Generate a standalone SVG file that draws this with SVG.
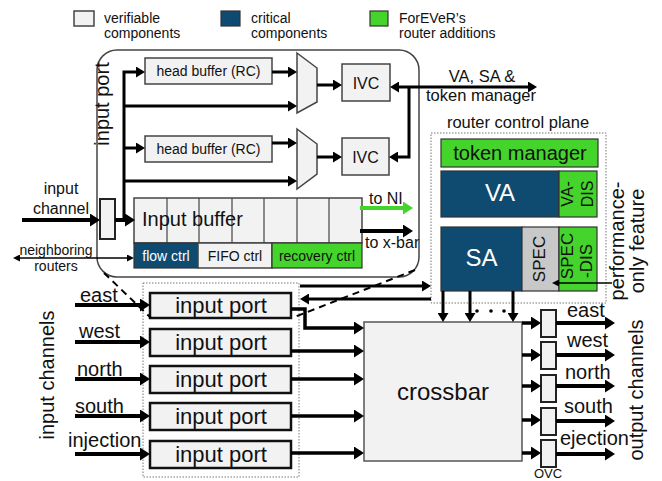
<svg xmlns="http://www.w3.org/2000/svg" width="662" height="481" viewBox="0 0 662 481">
<defs>
<style>
text{font-family:"Liberation Sans",Arial,sans-serif;fill:#111}
.box{fill:#f2f2f2;stroke:#444;stroke-width:1.5}
.crit{fill:#0f4a70;stroke:#333;stroke-width:1.2}
.add{fill:#44d42c;stroke:#333;stroke-width:1.2}
.spec{fill:#c8c8c8;stroke:#333;stroke-width:1.2}
.port{fill:#f2f2f2;stroke:#111;stroke-width:2.5}
.reg{fill:#f2f2f2;stroke:#222;stroke-width:2}
.dot{fill:none;stroke:#777;stroke-width:1;stroke-dasharray:1.5 1.5}
.cell{stroke:#444;stroke-width:1.2}
.wt{fill:#fff}
.c{stroke:#000;fill:none}
.t4{stroke-width:4}
.t35{stroke-width:3.5}
.t3{stroke-width:3}
.t15{stroke-width:1.5}
.dash{stroke:#000;stroke-width:2;stroke-dasharray:7 5;fill:none}
.ah{marker-end:url(#ah)}
.am{marker-end:url(#am)}
</style>
<marker id="ah" viewBox="0 0 10 13" markerWidth="10" markerHeight="13" refX="6" refY="6.5" orient="auto-start-reverse" markerUnits="userSpaceOnUse"><path d="M0,0 L10,6.5 L0,13 z" fill="#000"/></marker>
<marker id="am" viewBox="0 0 9 11" markerWidth="9" markerHeight="11" refX="5" refY="5.5" orient="auto-start-reverse" markerUnits="userSpaceOnUse"><path d="M0,0 L9,5.5 L0,11 z" fill="#000"/></marker>
<marker id="ahg" viewBox="0 0 10 13" markerWidth="10" markerHeight="13" refX="6" refY="6.5" orient="auto" markerUnits="userSpaceOnUse"><path d="M0,0 L10,6.5 L0,13 z" fill="#44d42c"/></marker>
<marker id="as" viewBox="0 0 7 7" markerWidth="7" markerHeight="7" refX="5" refY="3.5" orient="auto-start-reverse" markerUnits="userSpaceOnUse"><path d="M0,0 L7,3.5 L0,7 z" fill="#000"/></marker>
</defs>
<rect width="662" height="481" fill="#fff"/>

<g id="legend" font-size="14">
<rect x="74" y="11" width="20" height="15" class="box"/>
<text x="104" y="23">verifiable</text>
<text x="104" y="38">components</text>
<rect x="221" y="11" width="19" height="15" class="crit"/>
<text x="251" y="23">critical</text>
<text x="251" y="38">components</text>
<rect x="370" y="11" width="18" height="15" class="add"/>
<text x="399" y="23">ForEVeR’s</text>
<text x="399" y="38">router additions</text>
</g>

<g id="input-port-detail">
<rect x="97" y="50" width="322" height="227" rx="20" fill="#fff" stroke="#444" stroke-width="1.5"/>
<text transform="translate(109,104) rotate(-90)" text-anchor="middle" font-size="20">input port</text>
</g>

<g id="head-buffer-1"><rect x="145" y="58" width="127" height="26" class="box"/><text x="208.5" y="76" text-anchor="middle" font-size="14">head buffer (RC)</text></g>
<g id="head-buffer-2"><rect x="145" y="136" width="127" height="26" class="box"/><text x="208.5" y="154" text-anchor="middle" font-size="14">head buffer (RC)</text></g>
<g id="mux-1"><polygon points="297,53 317,68 317,102 297,113" class="box"/></g>
<g id="mux-2"><polygon points="297,129 317,144 317,174 297,189" class="box"/></g>
<g id="ivc-1"><rect x="342" y="64" width="48" height="37" class="box"/><text x="366" y="88.5" text-anchor="middle" font-size="16">IVC</text></g>
<g id="ivc-2"><rect x="342" y="138" width="47" height="37" class="box"/><text x="365.5" y="162.5" text-anchor="middle" font-size="16">IVC</text></g>

<g id="input-register"><rect x="100" y="199" width="15" height="40" class="reg"/></g>

<g id="input-buffer">
<rect x="134" y="198" width="228" height="45" class="box"/>
<path d="M167,198V243M199,198V243M232,198V243M264,198V243M297,198V243M329,198V243" class="cell"/>
<text x="142" y="226" font-size="20">Input buffer</text>
</g>
<g id="flow-ctrl"><rect x="134" y="243" width="64" height="25" class="crit"/><text x="166" y="261" text-anchor="middle" font-size="14" class="wt">flow ctrl</text></g>
<g id="fifo-ctrl"><rect x="198" y="243" width="74" height="25" class="box"/><text x="235" y="261" text-anchor="middle" font-size="14">FIFO ctrl</text></g>
<g id="recovery-ctrl"><rect x="272" y="243" width="90" height="25" class="add"/><text x="317" y="261" text-anchor="middle" font-size="14">recovery ctrl</text></g>

<g id="router-control-plane">
<text x="518" y="128" text-anchor="middle" font-size="16.5">router control plane</text>
<rect x="431" y="133" width="175" height="170" class="dot"/>
</g>
<g id="token-manager"><rect x="441" y="139" width="157" height="28" class="add"/><text x="520" y="160" text-anchor="middle" font-size="20">token manager</text></g>
<g id="va"><rect x="441" y="171" width="118" height="46" class="crit"/><text x="500" y="201" text-anchor="middle" font-size="24" class="wt">VA</text></g>
<g id="va-dis"><rect x="559" y="171" width="38" height="46" class="add"/>
<text transform="translate(573,194) rotate(-90)" text-anchor="middle" font-size="16">VA-</text>
<text transform="translate(593,194) rotate(-90)" text-anchor="middle" font-size="16">DIS</text></g>
<g id="sa"><rect x="441" y="227" width="81" height="64" class="crit"/><text x="481.5" y="266" text-anchor="middle" font-size="24" class="wt">SA</text></g>
<g id="spec"><rect x="522" y="227" width="37" height="64" class="spec"/><text transform="translate(545,259) rotate(-90)" text-anchor="middle" font-size="17">SPEC</text></g>
<g id="spec-dis"><rect x="559" y="227" width="38" height="64" class="add"/>
<text transform="translate(573,256) rotate(-90)" text-anchor="middle" font-size="17">SPEC</text>
<text transform="translate(592,261) rotate(-90)" text-anchor="middle" font-size="17">-DIS</text></g>
<g id="performance-label">
<text transform="translate(624,241) rotate(-90)" text-anchor="middle" font-size="20">performance-</text>
<text transform="translate(644,241) rotate(-90)" text-anchor="middle" font-size="20">only feature</text>
</g>

<g id="input-channel-label" font-size="16" text-anchor="middle">
<text x="61" y="194">input</text>
<text x="61" y="214">channel</text>
</g>
<g id="neighbor-label" font-size="14" text-anchor="middle">
<text x="56" y="255">neighboring</text>
<text x="56" y="271">routers</text>
</g>
<g id="ivc-label" font-size="16.5" text-anchor="middle">
<text x="482" y="82">VA, SA &amp;</text>
<text x="481" y="101">token manager</text>
</g>
<g id="out-labels" font-size="16">
<text x="369" y="204">to NI</text>
<text x="365" y="248">to x-bar</text>
</g>

<g id="input-ports-block">
<rect x="143" y="283" width="156" height="194" class="dot"/>
</g>
<g id="input-port-east"><rect x="150" y="293" width="141" height="25" class="port"/><text x="221" y="313" text-anchor="middle" font-size="22">input port</text></g>
<g id="input-port-west"><rect x="150" y="329" width="141" height="27" class="port"/><text x="221" y="350" text-anchor="middle" font-size="22">input port</text></g>
<g id="input-port-north"><rect x="150" y="366" width="141" height="27" class="port"/><text x="221" y="387" text-anchor="middle" font-size="22">input port</text></g>
<g id="input-port-south"><rect x="150" y="403" width="141" height="27" class="port"/><text x="221" y="424" text-anchor="middle" font-size="22">input port</text></g>
<g id="input-port-injection"><rect x="150" y="441" width="141" height="27" class="port"/><text x="221" y="462" text-anchor="middle" font-size="22">input port</text></g>

<g id="input-channels-label" font-size="20">
<text transform="translate(54,375) rotate(-90)" text-anchor="middle">input channels</text>
<text x="80" y="302">east</text>
<text x="79" y="338">west</text>
<text x="77" y="376">north</text>
<text x="75" y="413">south</text>
<text x="68" y="447">injection</text>
</g>

<g id="crossbar"><rect x="364" y="322" width="158" height="139" fill="#f2f2f2" stroke="#555" stroke-width="1.5"/><text x="443" y="400" text-anchor="middle" font-size="24">crossbar</text></g>

<g id="ovc-east"><rect x="541" y="310" width="15" height="27" class="reg"/></g>
<g id="ovc-west"><rect x="541" y="342" width="15" height="27" class="reg"/></g>
<g id="ovc-north"><rect x="541" y="375" width="15" height="27" class="reg"/></g>
<g id="ovc-south"><rect x="541" y="408" width="15" height="27" class="reg"/></g>
<g id="ovc-ejection"><rect x="541" y="440" width="15" height="27" class="reg"/></g>
<g id="ovc-label"><text x="548" y="477.5" text-anchor="middle" font-size="13">OVC</text></g>

<g id="output-channels-label" font-size="20">
<text transform="translate(643,390) rotate(-90)" text-anchor="middle">output channels</text>
<text x="567" y="317">east</text>
<text x="567" y="347">west</text>
<text x="565" y="379">north</text>
<text x="564" y="413">south</text>
<text x="560" y="445">ejection</text>
</g>

<g id="connectors">
<path d="M22,220H96" class="c t4 ah"/>
<path d="M115,220H131" class="c t4 ah"/>
<path d="M124,220V72H141" class="c t3 am"/>
<path d="M124,106H293" class="c t3 am"/>
<path d="M124,148H141" class="c t3 am"/>
<path d="M124,181H293" class="c t3 am"/>
<path d="M272,72H293" class="c t3 am"/>
<path d="M272,143H293" class="c t3 am"/>
<path d="M317,85H338" class="c t3 am"/>
<path d="M317,157H338" class="c t3 am"/>
<path d="M394,87H533" class="c t3" marker-start="url(#am)" marker-end="url(#am)"/>
<path d="M409,87V157H393" class="c t3 am"/>
<path d="M360,208H409" stroke="#44d42c" stroke-width="4" fill="none" marker-end="url(#ahg)"/>
<path d="M360,231H409" class="c t4 ah"/>
<path d="M15,258H132" class="c t15" marker-start="url(#as)" marker-end="url(#as)"/>
<path d="M612,283H554" class="c t15" marker-end="url(#as)"/>
<path d="M75,305H146" class="c t4 ah"/>
<path d="M75,342H146" class="c t4 ah"/>
<path d="M75,379H146" class="c t4 ah"/>
<path d="M75,416H146" class="c t4 ah"/>
<path d="M75,454H146" class="c t4 ah"/>
<path d="M291,309H305V328H360" class="c t35 ah"/>
<path d="M291,351H360" class="c t35 ah"/>
<path d="M291,379H360" class="c t35 ah"/>
<path d="M291,416H360" class="c t35 ah"/>
<path d="M291,453H360" class="c t35 ah"/>
<path d="M300,286H427" class="c t3 am"/>
<path d="M431,299H304" class="c t3 am"/>
<path d="M443,291V318" class="c t3 am"/>
<path d="M470,291V318" class="c t3 am"/>
<path d="M513,291V318" class="c t3 am"/>
<circle cx="477" cy="311" r="1.8"/><circle cx="491" cy="311" r="1.8"/><circle cx="504" cy="311" r="1.8"/>
<path d="M522,323H537" class="c t35 ah"/>
<path d="M522,355H537" class="c t35 ah"/>
<path d="M522,386H537" class="c t35 ah"/>
<path d="M522,420H537" class="c t35 ah"/>
<path d="M522,453H537" class="c t35 ah"/>
<path d="M556,323H611" class="c t4 ah"/>
<path d="M556,355H611" class="c t4 ah"/>
<path d="M556,386H611" class="c t4 ah"/>
<path d="M556,421H611" class="c t4 ah"/>
<path d="M556,454H611" class="c t4 ah"/>
<path d="M104,273L151,318" class="dash"/>
<path d="M415,270L292,318" class="dash"/>
</g>
</svg>
